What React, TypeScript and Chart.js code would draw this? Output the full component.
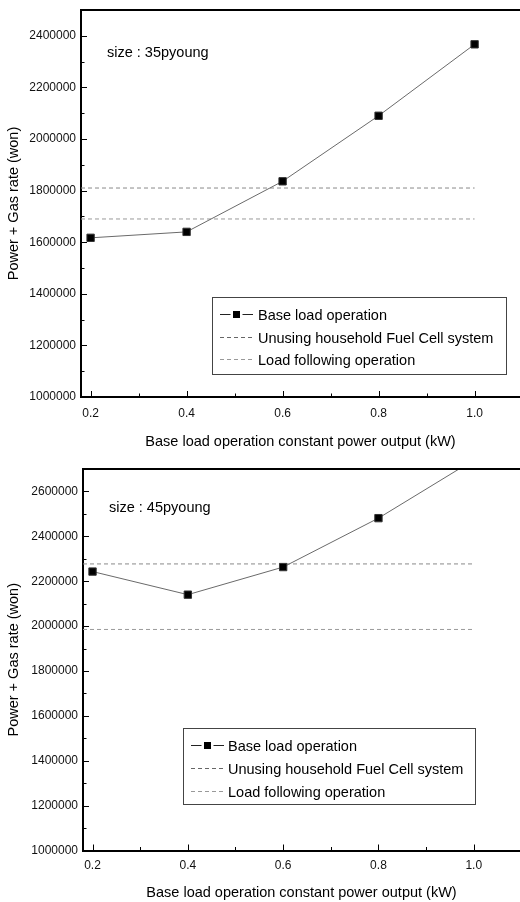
import React, { useEffect, useRef } from "react";
import { Chart, registerables } from "chart.js";

Chart.register(...registerables);

// ---------- data ----------
const xValues = [0.2, 0.4, 0.6, 0.8, 1.0];
const xTickLabels = ["0.2", "0.4", "0.6", "0.8", "1.0"];

const baseLoad35 = [1617000, 1640000, 1836000, 2090000, 2367000];
const unusing35 = 1810000;
const loadFollowing35 = 1690000;
const yTicks35 = [1000000, 1200000, 1400000, 1600000, 1800000, 2000000, 2200000, 2400000];

const baseLoad45 = [2243000, 2140000, 2263000, 2481000, 2740000];
const unusing45 = 2277000;
const loadFollowing45 = 1985000;
const yTicks45 = [1000000, 1200000, 1400000, 1600000, 1800000, 2000000, 2200000, 2400000, 2600000];

const seriesLabels = ["Base load operation", "Unusing household Fuel Cell system", "Load following operation"];
const sizeLabels = ["size : 35pyoung", "size : 45pyoung"];
const yTitle = "Power + Gas rate (won)";
const xTitle = "Base load operation constant power output (kW)";

const refLineEndX = 1.0;

// ---------- style ----------
const FONT = "'Liberation Sans', Arial, sans-serif";

const framePlugin = {
  id: "frame",
  afterDatasetsDraw(chart: any) {
    const { ctx, chartArea: a, scales } = chart;
    const xs = scales.x;
    const ys = scales.y;
    ctx.save();
    ctx.strokeStyle = "#000";
    ctx.lineWidth = 2;
    ctx.beginPath();
    ctx.moveTo(a.left - 1, a.top);
    ctx.lineTo(a.right, a.top);
    ctx.stroke();

    ctx.lineWidth = 1;
    const yv = ys.ticks.map((t: any) => t.value);
    const ystep = yv[1] - yv[0];
    yv.forEach((v: number) => {
      const p = Math.round(ys.getPixelForValue(v)) + 0.5;
      ctx.beginPath();
      ctx.moveTo(a.left, p);
      ctx.lineTo(a.left + 6, p);
      ctx.stroke();
      const m = v + ystep / 2;
      if (m < ys.max) {
        const pm = Math.round(ys.getPixelForValue(m)) + 0.5;
        ctx.beginPath();
        ctx.moveTo(a.left, pm);
        ctx.lineTo(a.left + 3.5, pm);
        ctx.stroke();
      }
    });
    const xv = xs.ticks.map((t: any) => t.value);
    const xstep = xv[1] - xv[0];
    xv.forEach((v: number) => {
      const p = Math.round(xs.getPixelForValue(v)) + 0.5;
      ctx.beginPath();
      ctx.moveTo(p, a.bottom);
      ctx.lineTo(p, a.bottom - 6);
      ctx.stroke();
      const m = v + xstep / 2;
      if (m < xs.max) {
        const pm = Math.round(xs.getPixelForValue(m)) + 0.5;
        ctx.beginPath();
        ctx.moveTo(pm, a.bottom);
        ctx.lineTo(pm, a.bottom - 3.5);
        ctx.stroke();
      }
    });
    ctx.restore();
  },
};

const legendBoxPlugin = {
  id: "legendBox",
  afterDraw(chart: any, _args: any, o: any) {
    const ctx = chart.ctx;
    ctx.save();
    ctx.fillStyle = "#fff";
    ctx.fillRect(o.left, o.top, o.width, o.height);
    ctx.strokeStyle = "#444";
    ctx.lineWidth = 1;
    ctx.strokeRect(Math.round(o.left) + 0.5, Math.round(o.top) + 0.5, o.width, o.height);
    chart.data.datasets.forEach((ds: any, i: number) => {
      const cy = Math.round(o.top + o.firstRow + i * o.rowGap) + 0.5;
      ctx.beginPath();
      ctx.setLineDash(ds.borderDash || []);
      ctx.strokeStyle = ds.legendColor || ds.borderColor;
      ctx.lineWidth = 1;
      ctx.moveTo(o.left + o.sampleStart, cy);
      ctx.lineTo(o.left + o.sampleEnd, cy);
      ctx.stroke();
      ctx.setLineDash([]);
      if (ds.pointRadius > 0) {
        const cx = o.left + (o.sampleStart + o.sampleEnd) / 2;
        ctx.fillStyle = "#fff";
        ctx.fillRect(cx - 6, cy - 4, 12, 8);
        ctx.fillStyle = "#000";
        ctx.fillRect(cx - 3.5, cy - 3.5, 7, 7);
      }
      ctx.fillStyle = "#000";
      ctx.font = `14.5px ${FONT}`;
      ctx.textBaseline = "middle";
      ctx.textAlign = "left";
      ctx.fillText(ds.label, o.left + o.textX, cy + 1);
    });
    ctx.restore();
  },
};

const sizeLabelPlugin = {
  id: "sizeLabel",
  afterDraw(chart: any, _args: any, o: any) {
    const ctx = chart.ctx;
    ctx.save();
    ctx.fillStyle = "#000";
    ctx.font = `14.5px ${FONT}`;
    ctx.textBaseline = "alphabetic";
    ctx.textAlign = "left";
    ctx.fillText(o.text, o.x, o.y);
    ctx.restore();
  },
};

function makeConfig(p: {
  base: number[];
  unusing: number;
  loadFollowing: number;
  yTicks: number[];
  yMax: number;
  xMin: number;
  xMax: number;
  top: number;
  left: number;
  xHeight: number;
  xTickPad: number;
  xTitlePad: number;
  legend: any;
  size: any;
}): any {
  return {
    type: "line",
    data: {
      datasets: [
        {
          label: seriesLabels[0],
          data: xValues.map((x, i) => ({ x, y: p.base[i] })),
          borderColor: "#6a6a6a",
          legendColor: "#222",
          borderWidth: 1,
          pointStyle: "rect",
          pointRadius: 5.2,
          pointBackgroundColor: "#000",
          pointBorderColor: "#333",
          pointBorderWidth: 1,
          tension: 0,
        },
        {
          label: seriesLabels[1],
          data: [
            { x: p.xMin, y: p.unusing },
            { x: refLineEndX, y: p.unusing },
          ],
          borderColor: "#8a8a8a",
          legendColor: "#666",
          borderWidth: 1,
          borderDash: [4, 3],
          pointRadius: 0,
        },
        {
          label: seriesLabels[2],
          data: [
            { x: p.xMin, y: p.loadFollowing },
            { x: refLineEndX, y: p.loadFollowing },
          ],
          borderColor: "#9a9a9a",
          legendColor: "#999",
          borderWidth: 1,
          borderDash: [4, 3],
          pointRadius: 0,
        },
      ],
    },
    options: {
      responsive: false,
      animation: false,
      devicePixelRatio: 1,
      layout: { autoPadding: false, padding: { top: p.top, left: 0, right: 0, bottom: 0 } },
      plugins: {
        legend: { display: false },
        tooltip: { enabled: false },
        legendBox: p.legend,
        sizeLabel: p.size,
      },
      scales: {
        x: {
          type: "linear",
          min: p.xMin,
          max: p.xMax,
          afterBuildTicks: (s: any) => {
            s.ticks = xValues.map((v) => ({ value: v }));
          },
          afterFit: (s: any) => {
            s.height = p.xHeight;
            s.paddingLeft = 0;
            s.paddingRight = 0;
          },
          grid: { display: false, drawTicks: false, tickLength: 0 },
          border: { display: true, color: "#000", width: 2 },
          ticks: {
            autoSkip: false,
            maxRotation: 0,
            padding: p.xTickPad,
            color: "#111",
            font: { family: FONT, size: 12 },
            callback: (_v: any, i: number) => xTickLabels[i],
          },
          title: {
            display: true,
            text: xTitle,
            color: "#000",
            font: { family: FONT, size: 14.5 },
            padding: { top: 0, bottom: p.xTitlePad },
          },
        },
        y: {
          type: "linear",
          min: 1000000,
          max: p.yMax,
          afterBuildTicks: (s: any) => {
            s.ticks = p.yTicks.map((v) => ({ value: v }));
          },
          afterFit: (s: any) => {
            s.width = p.left;
            s.paddingTop = 0;
            s.paddingBottom = 0;
          },
          grid: { display: false, drawTicks: false, tickLength: 0 },
          border: { display: true, color: "#000", width: 2 },
          ticks: {
            autoSkip: false,
            padding: 5,
            color: "#111",
            font: { family: FONT, size: 12 },
            callback: (v: any) => String(v),
          },
          title: {
            display: true,
            text: yTitle,
            color: "#000",
            font: { family: FONT, size: 14.5 },
            padding: { top: 5, bottom: 0 },
          },
        },
      },
    },
    plugins: [framePlugin, legendBoxPlugin, sizeLabelPlugin],
  };
}

function ChartCanvas({ config }: { config: any }) {
  const ref = useRef<HTMLCanvasElement | null>(null);
  useEffect(() => {
    if (!ref.current) return;
    const c = new Chart(ref.current, config);
    return () => c.destroy();
  }, [config]);
  return <canvas ref={ref} width={520} height={451} style={{ display: "block", width: 520, height: 451 }} />;
}

const config35 = makeConfig({
  base: baseLoad35,
  unusing: unusing35,
  loadFollowing: loadFollowing35,
  yTicks: yTicks35,
  yMax: 2500000,
  xMin: 0.18,
  xMax: 1.0946,
  top: 10,
  left: 81,
  xHeight: 54,
  xTickPad: 9,
  xTitlePad: 0.5,
  legend: { left: 212, top: 297, width: 294, height: 77, firstRow: 17, rowGap: 22.5, sampleStart: 8, sampleEnd: 41, textX: 46 },
  size: { text: sizeLabels[0], x: 107, y: 57 },
});

const config45 = makeConfig({
  base: baseLoad45,
  unusing: unusing45,
  loadFollowing: loadFollowing45,
  yTicks: yTicks45,
  yMax: 2700000,
  xMin: 0.18,
  xMax: 1.097,
  top: 18,
  left: 83,
  xHeight: 51.5,
  xTickPad: 8,
  xTitlePad: 0,
  legend: { left: 183, top: 277, width: 292, height: 76, firstRow: 17, rowGap: 22.8, sampleStart: 8, sampleEnd: 41, textX: 45 },
  size: { text: sizeLabels[1], x: 109, y: 60.5 },
});

export default function App() {
  return (
    <div style={{ position: "absolute", left: 0, top: 0, width: 520, height: 902, background: "#fff" }}>
      <ChartCanvas config={config35} />
      <ChartCanvas config={config45} />
    </div>
  );
}
